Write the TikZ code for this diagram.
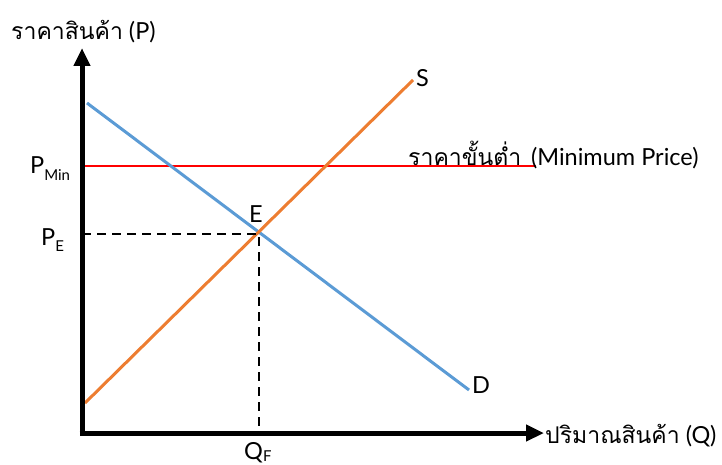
\documentclass[tikz,border=0pt]{standalone}
\usepackage{fontspec}
\setmainfont{Lato}
\newfontfamily\thaifont[Script=Thai,Scale=0.98]{Loma}
\usetikzlibrary{arrows.meta}
\definecolor{dblue}{RGB}{91,155,213}
\definecolor{sorange}{RGB}{237,125,49}
\newcommand\mysub[2][0.26em]{\raisebox{-#1}{\fontsize{15}{15}\selectfont #2}}
\tikzset{
  axis/.style={line width=5pt,-{Triangle[length=18pt,width=16pt]}},
  curve/.style={line width=3pt},
  guide/.style={line width=2.5pt,dash pattern=on 9pt off 6pt},
  lbl/.style={inner sep=0pt,font=\fontsize{23.5}{25}\selectfont},
}
\begin{document}
\begin{tikzpicture}[x=1pt,y=-1pt]
\useasboundingbox (0,0) rectangle (722,465);
% coordinates
\coordinate (O) at (82,433);
\coordinate (Ytip) at (82,48);
\coordinate (Ybot) at (82,435.5);
\coordinate (Xstart) at (79.5,433);
\coordinate (Xtip) at (544,433);
\coordinate (D1) at (87,103);
\coordinate (D2) at (469,390);
\coordinate (S1) at (85,403);
\coordinate (S2) at (413,80);
\coordinate (M1) at (82,166);
\coordinate (M2) at (536,166);
\coordinate (E) at (259,234);
\coordinate (PEy) at (82,234);
\coordinate (QFx) at (259,433);
% curves
\draw[red,line width=2pt] (M1) -- (M2);
\draw[curve,dblue] (D1) -- (D2);
\draw[curve,sorange] (S1) -- (S2);
\draw[guide] (PEy) -- (E) -- (QFx);
% axes
\draw[axis] (Ybot) -- (Ytip);
\draw[axis] (Xstart) -- (Xtip);
% labels
\node[lbl,anchor=base west] (ylab) at (11,40) {{\thaifont ราคาสินค้า} (P)};
\node[lbl,anchor=base west] (xlab) at (545,443) {{\thaifont ปริมาณสินค้า} (Q)};
\node[lbl,anchor=base west] (mlab) at (408,166) {{\thaifont ราคาขั้นต่ำ}\ \,(Minimum Price)};
\node[lbl,anchor=base west] (pmin) at (30,174) {P\mysub{Min}};
\node[lbl,anchor=base west] (pe) at (41,245) {P\mysub{E}};
\node[lbl,anchor=base west] (qf) at (244,459) {Q\mysub[0.12em]{F}};
\node[lbl,anchor=base west] (elab) at (249,222) {E};
\node[lbl,anchor=base west] (slab) at (416,87) {S};
\node[lbl,anchor=base west] (dlab) at (472,393) {D};
\end{tikzpicture}
\end{document}
